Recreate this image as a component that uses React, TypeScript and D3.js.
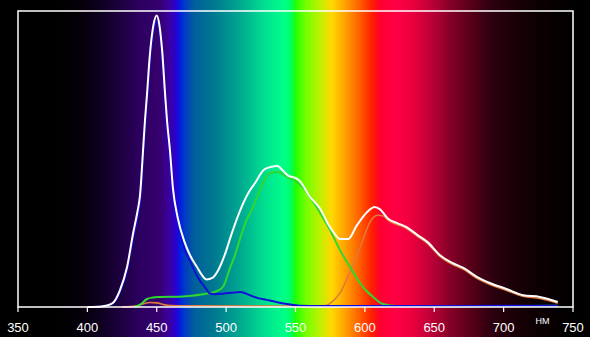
import React from "react";
import * as d3 from "d3";

const W = 590;
const H = 337;

const xTicks = [350, 400, 450, 500, 550, 600, 650, 700, 750];
const unitLabel = "НМ";

// [wavelength nm, relative intensity %]
const whiteSeries: [number, number][] = [
  [400, 0], [410, 0.2], [414, 0.5], [418.5, 1.4], [423.5, 5.7], [428.6, 13.5], [433, 25], [436, 32],
  [438, 38], [440, 52], [441.5, 63], [443, 72], [445, 85], [447.5, 95], [450, 98.5], [452, 95],
  [454, 86], [456, 72], [457.4, 63], [459.5, 53], [461.7, 40], [465, 30.4], [470, 22], [474, 17.5],
  [479, 13.5], [483, 10.5], [486, 9.3], [490, 9.8], [494, 12.2], [499, 17.6], [504, 24.8], [510, 32.5],
  [516, 38.5], [521, 42], [527, 46.3], [532, 47.3], [537, 47.6], [541, 46], [545, 44.3], [550, 43.6],
  [553, 42.6], [560, 37.5], [568, 33], [573, 28.5], [577, 25.5], [582, 23], [588, 23], [594, 27.4],
  [601.5, 32], [607, 33.8], [611, 33], [617, 29.7], [623, 28.4], [630, 27], [638, 24.3], [645, 22],
  [654, 17.6], [663, 14.9], [671, 13.2], [681, 10.1], [690, 8.1], [702, 6.1], [714, 4], [726, 3.4],
  [739, 1.7],
];

const greenSeries: [number, number][] = [
  [434, 0], [438, 0.8], [443, 2.7], [447, 3.2], [452, 3.4], [460, 3.5], [466, 3.5], [475, 3.8],
  [481, 4.1], [488, 4.7], [494, 5.5], [498, 7], [502.8, 13.2], [506, 17], [510, 23], [514, 28.5],
  [519.4, 33.8], [526.6, 41.9], [531.6, 45.3], [537.4, 45.6], [543.9, 43.9], [551, 42.2], [556, 40],
  [560.5, 37.2], [567.7, 31.8], [574.9, 26], [582, 19.3], [589.3, 13.5], [596.5, 8.1], [601, 5.5],
  [605.9, 3.4], [613, 1], [623, 0.3], [660, 0.2], [700, 0.3], [739, 0.4],
];

const blueSeries: [number, number][] = [
  [405, 0], [414, 0.4], [418.5, 1.2], [423.5, 5], [428.6, 12.5], [433, 23.5], [436, 30], [438, 36],
  [440, 50], [441.5, 61], [443, 70], [445, 83], [447.5, 93], [450, 96.5], [452, 93], [454, 84],
  [456, 70], [457.4, 61], [459.5, 51], [461.7, 38], [465, 28.5], [467, 24.5], [470, 19.5], [474, 15.5],
  [478, 11.5], [481, 9], [485, 6.5], [488, 4.7], [492, 4.3], [498, 4.5], [504, 4.8], [510, 5.1],
  [514, 4.6], [517, 4], [523, 3], [529, 2.4], [536, 1.7], [544, 1], [553, 0.4], [570, 0.3],
  [600, 0.3], [650, 0.3], [700, 0.4], [739, 0.4],
];

const redSeries: [number, number][] = [
  [425, 0], [435, 0.3], [440, 1], [445, 1.5], [450, 1.4], [455, 0.8], [460, 0.5], [480, 0.4],
  [520, 0.3], [560, 0.3], [572, 0.5], [577, 2], [582, 4.7], [589, 11.5], [596.5, 20], [603.7, 28.7],
  [609, 31], [613, 30.8], [617, 29.2], [623, 27.9], [630, 26.5], [638, 23.8], [645, 21.5], [654, 17.1],
  [663, 14.4], [671, 12.7], [681, 9.6], [690, 7.6], [702, 5.6], [714, 3.6], [726, 2.9], [739, 1.3],
];

// background spectrum stops: [wavelength nm, colour]
const spectrumStops: [number, string][] = [
  [319, "#000000"], [380, "#000000"], [395, "#05000a"], [410, "#0e0020"], [424, "#1e0040"],
  [438, "#2c0060"], [452, "#36006e"], [459, "#3a00a0"], [464, "#2800d0"], [467, "#0020e0"],
  [471, "#0040c0"], [477.5, "#00609a"], [492, "#007a90"], [510, "#00a890"], [528, "#00e090"],
  [542, "#00ff88"], [547, "#00ff60"], [550, "#20ff00"], [557, "#70ff00"], [568, "#c0f000"],
  [576, "#ffd800"], [586, "#ffa000"], [596, "#ff6000"], [605, "#ff2000"], [611, "#ff0030"],
  [622, "#ff0044"], [632, "#f00040"], [647, "#c00038"], [661, "#880028"], [676, "#580018"],
  [690, "#300010"], [712, "#150005"], [733, "#080000"], [750, "#000000"],
];

const x = d3.scaleLinear().domain([350, 750]).range([18, 573]);
const y = d3.scaleLinear().domain([0, 100]).range([307, 11]);

const line = d3
  .line<[number, number]>()
  .x((d) => x(d[0]))
  .y((d) => y(d[1]))
  .curve(d3.curveMonotoneX);

export default function App() {
  const x0 = x(350);
  const x1 = x(750);
  const yTop = y(100);
  const yBase = y(0);
  return (
    <svg
      width={W}
      height={H}
      style={{ position: "absolute", left: 0, top: 0, display: "block" }}
      fontFamily="'Liberation Sans', Arial, sans-serif"
    >
      <defs>
        <linearGradient id="spec" gradientUnits="userSpaceOnUse" x1={0} x2={W} y1={0} y2={0}>
          {spectrumStops.map(([nm, c], i) => (
            <stop key={i} offset={Math.max(0, Math.min(1, x(nm) / W))} stopColor={c} />
          ))}
        </linearGradient>
      </defs>
      <rect x={0} y={0} width={W} height={H} fill="#000" />
      <rect x={0} y={0} width={W} height={H} fill="url(#spec)" />

      <path d={line(redSeries) || ""} fill="none" stroke="#e07a3a" strokeWidth={1.6} />
      <path d={line(greenSeries) || ""} fill="none" stroke="#2ed82e" strokeWidth={2} />
      <path d={line(blueSeries) || ""} fill="none" stroke="#1010d8" strokeWidth={2} />
      <path d={line(whiteSeries) || ""} fill="none" stroke="#ffffff" strokeWidth={2} />

      <path
        d={`M${x0},${yBase}V${yTop}H${x1}V${yBase}Z`}
        fill="none"
        stroke="#ffffff"
        strokeWidth={1.5}
      />
      {xTicks.map((t) => (
        <g key={t}>
          <line x1={x(t)} x2={x(t)} y1={yBase} y2={yBase + 5} stroke="#fff" strokeWidth={1.2} />
          <text x={x(t)} y={332} textAnchor="middle" fill="#fff" fontSize={13}>
            {t}
          </text>
        </g>
      ))}
      <text x={x(728)} y={324} textAnchor="middle" fill="#fff" fontSize={9}>
        {unitLabel}
      </text>
    </svg>
  );
}
